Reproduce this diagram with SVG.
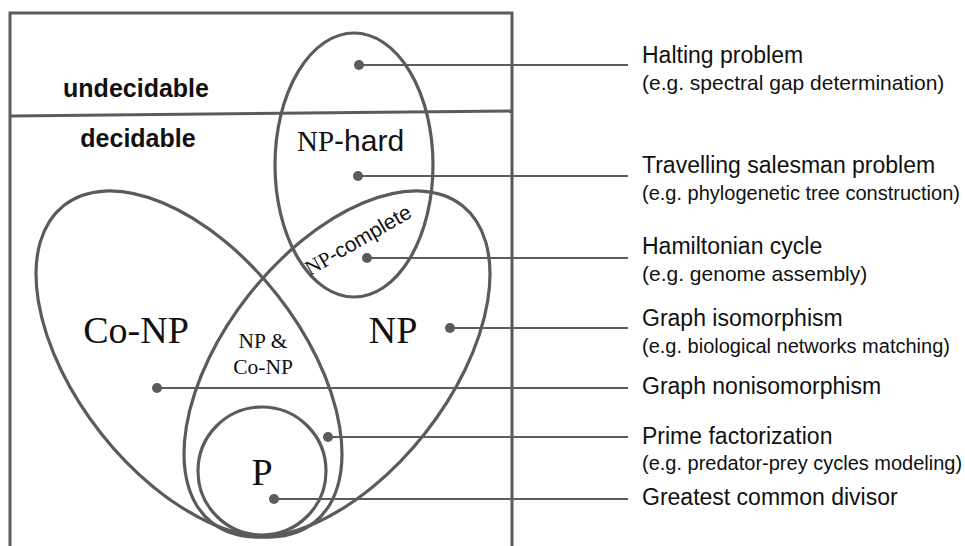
<svg xmlns="http://www.w3.org/2000/svg" width="965" height="546" viewBox="0 0 965 546">
<style>
.frame{fill:none;stroke:#5b5b5b;stroke-width:3}
.set{fill:none;stroke:#5b5b5b;stroke-width:3.2}
.conn{stroke:#5b5b5b;stroke-width:2.2;fill:none}
.dot{fill:#5b5b5b}
.zone{font-family:"Liberation Sans",Arial,sans-serif;font-weight:bold;font-size:25px;fill:#111;text-anchor:middle}
.serif{font-family:"Liberation Serif","Times New Roman",serif;fill:#111}
.sans{font-family:"Liberation Sans",Arial,sans-serif;fill:#111}
.title{font-family:"Liberation Sans",Arial,sans-serif;font-size:23px;fill:#111}
.sub{font-family:"Liberation Sans",Arial,sans-serif;font-size:21px;fill:#111}
.sub.long{font-size:20px}
</style>
<rect width="965" height="546" fill="#fff"/>
<g id="frame">
<path class="frame" d="M10,548 V13 H512 V548"/>
<line class="frame" x1="11" y1="116" x2="511" y2="111"/>
<text class="zone" x="136" y="97">undecidable</text>
<text class="zone" x="138" y="147">decidable</text>
</g>
<g id="np-hard">
<ellipse class="set" cx="354" cy="165" rx="79" ry="132"/>
<text x="297" y="151"><tspan class="serif" font-size="29">NP</tspan><tspan class="sans" font-size="30">-hard</tspan></text>
</g>
<g id="co-np">
<ellipse class="set" cx="189" cy="364" rx="202" ry="112" transform="rotate(51.7 189 364)"/>
<text class="serif" font-size="38" x="136" y="343" text-anchor="middle">Co-NP</text>
</g>
<g id="np">
<ellipse class="set" cx="337" cy="364" rx="202" ry="112" transform="rotate(-51.7 337 364)"/>
<text class="serif" font-size="38" x="393" y="343" text-anchor="middle">NP</text>
</g>
<g id="np-and-co-np">
<text class="serif" font-size="21.5" text-anchor="middle"><tspan x="263" y="348">NP &amp;</tspan><tspan x="263" y="374">Co-NP</tspan></text>
</g>
<g id="np-complete">
<text transform="translate(310,276) rotate(-30)"><tspan class="serif" font-size="21">NP</tspan><tspan class="sans" font-size="21">-complete</tspan></text>
</g>
<g id="p">
<circle class="set" cx="262" cy="471" r="64"/>
<text class="serif" font-size="38" x="262" y="485" text-anchor="middle">P</text>
</g>
<g id="connectors">
<line class="conn" x1="359" y1="65" x2="628" y2="65"/>
<line class="conn" x1="358" y1="176" x2="628" y2="176"/>
<line class="conn" x1="367" y1="258" x2="628" y2="258"/>
<line class="conn" x1="450" y1="328" x2="628" y2="328"/>
<line class="conn" x1="157" y1="388" x2="628" y2="388"/>
<line class="conn" x1="328" y1="437" x2="628" y2="437"/>
<line class="conn" x1="274" y1="499" x2="628" y2="499"/>
<circle class="dot" cx="359" cy="65" r="5"/>
<circle class="dot" cx="358" cy="176" r="5"/>
<circle class="dot" cx="367" cy="258" r="5"/>
<circle class="dot" cx="450" cy="328" r="5"/>
<circle class="dot" cx="157" cy="388" r="5"/>
<circle class="dot" cx="328" cy="437" r="5"/>
<circle class="dot" cx="274" cy="499" r="5"/>
</g>
<g id="halting-problem">
<text class="title" x="642" y="63">Halting problem</text>
<text class="sub" x="642" y="90">(e.g. spectral gap determination)</text>
</g>
<g id="travelling-salesman">
<text class="title" x="642" y="173">Travelling salesman problem</text>
<text class="sub long" x="642" y="200">(e.g. phylogenetic tree construction)</text>
</g>
<g id="hamiltonian-cycle">
<text class="title" x="642" y="254">Hamiltonian cycle</text>
<text class="sub" x="642" y="281">(e.g. genome assembly)</text>
</g>
<g id="graph-isomorphism">
<text class="title" x="642" y="326">Graph isomorphism</text>
<text class="sub long" x="642" y="353">(e.g. biological networks matching)</text>
</g>
<g id="graph-nonisomorphism">
<text class="title" x="642" y="394">Graph nonisomorphism</text>
</g>
<g id="prime-factorization">
<text class="title" x="642" y="444">Prime factorization</text>
<text class="sub long" x="642" y="470">(e.g. predator-prey cycles modeling)</text>
</g>
<g id="gcd">
<text class="title" x="642" y="505">Greatest common divisor</text>
</g>
</svg>
